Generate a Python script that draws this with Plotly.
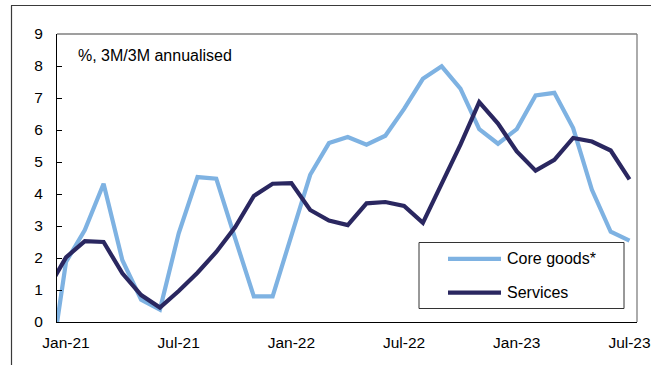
import plotly.graph_objects as go

# Monthly observations; the Dec-20 value only sets the slope of the first segment
# (the axis starts partway into December, so that point itself sits off-plot).
months = ["Dec-20",
          "Jan-21", "Feb-21", "Mar-21", "Apr-21", "May-21", "Jun-21",
          "Jul-21", "Aug-21", "Sep-21", "Oct-21", "Nov-21", "Dec-21",
          "Jan-22", "Feb-22", "Mar-22", "Apr-22", "May-22", "Jun-22",
          "Jul-22", "Aug-22", "Sep-22", "Oct-22", "Nov-22", "Dec-22",
          "Jan-23", "Feb-23", "Mar-23", "Apr-23", "May-23", "Jun-23",
          "Jul-23"]

core_goods = [-2.1,
              1.88, 2.87, 4.32, 1.93, 0.70, 0.39,
              2.77, 4.53, 4.48, 2.62, 0.80, 0.80,
              2.65, 4.60, 5.59, 5.78, 5.54, 5.82,
              6.66, 7.60, 7.99, 7.29, 6.03, 5.57,
              6.03, 7.08, 7.16, 6.06, 4.13, 2.82,
              2.54]

services = [1.0,
            2.02, 2.53, 2.50, 1.52, 0.84, 0.45,
            0.97, 1.54, 2.19, 2.96, 3.94, 4.32,
            4.34, 3.50, 3.17, 3.03, 3.71, 3.75,
            3.63, 3.10, 4.33, 5.54, 6.87, 6.20,
            5.33, 4.73, 5.07, 5.75, 5.64, 5.36,
            4.46]

x_ticks = ["Jan-21", "Jul-21", "Jan-22", "Jul-22", "Jan-23", "Jul-23"]
y_ticks = list(range(0, 10))

series_names = ["Core goods*", "Services"]
series_colors = ["#7EB2E2", "#2A2760"]

W, H = 665, 365
L, R, T, B = 57, 28, 34, 43
PW, PH = W - L - R, H - T - B

FONT = "Liberation Sans, Arial, sans-serif"


def px(x):
    return (x - L) / PW


def py(y):
    return (H - B - y) / PH


fig = go.Figure()
for name, vals, col in zip(series_names, [core_goods, services], series_colors):
    fig.add_trace(go.Scatter(
        x=months, y=vals, mode="lines", name=name,
        line=dict(color=col, width=4.2), showlegend=False,
    ))

shapes = []
# grey top/right edges of the plot area
shapes.append(dict(type="line", xref="paper", yref="paper", x0=0, x1=1, y0=1, y1=1,
                   line=dict(color="#7f7f7f", width=1.3)))
shapes.append(dict(type="line", xref="paper", yref="paper", x0=1, x1=1, y0=0, y1=1,
                   line=dict(color="#7f7f7f", width=1.3)))
# outer frame (top and left)
shapes.append(dict(type="line", xref="paper", yref="paper",
                   x0=px(11), x1=px(651), y0=py(5.5), y1=py(5.5),
                   line=dict(color="#3a3a3a", width=1.2)))
shapes.append(dict(type="line", xref="paper", yref="paper",
                   x0=px(11.5), x1=px(11.5), y0=py(5.5), y1=py(366),
                   line=dict(color="#3a3a3a", width=1.2)))
# legend box
shapes.append(dict(type="rect", xref="paper", yref="paper",
                   x0=px(419), x1=px(624), y0=py(308.5), y1=py(242.5),
                   line=dict(color="#333333", width=1), fillcolor="white"))

annotations = [dict(text="%, 3M/3M annualised", xref="paper", yref="paper",
                    x=px(76), y=py(56), xanchor="left", yanchor="middle",
                    showarrow=False, font=dict(family=FONT, size=16, color="black"))]

legend_rows = [258.8, 292.6]
for name, col, yy in zip(series_names, series_colors, legend_rows):
    shapes.append(dict(type="line", xref="paper", yref="paper",
                       x0=px(448), x1=px(501), y0=py(yy), y1=py(yy),
                       line=dict(color=col, width=4.2)))
    annotations.append(dict(text=name, xref="paper", yref="paper",
                            x=px(505), y=py(yy), xanchor="left", yanchor="middle",
                            showarrow=False,
                            font=dict(family=FONT, size=16, color="black")))

fig.update_layout(
    width=W, height=H,
    margin=dict(l=L, r=R, t=T, b=B, autoexpand=False),
    paper_bgcolor="white", plot_bgcolor="white",
    font=dict(family=FONT, color="black"),
    shapes=shapes, annotations=annotations,
    showlegend=False,
)

fig.update_xaxes(
    type="category", categoryorder="array", categoryarray=months,
    range=[0.52, 31.4],
    tickmode="array", tickvals=x_ticks, ticktext=x_ticks,
    ticks="", showgrid=False, zeroline=False,
    showline=True, linecolor="black", linewidth=1.3,
    tickfont=dict(family=FONT, size=15.5, color="black"),
    ticklabelstandoff=6,
)

fig.update_yaxes(
    range=[0, 9], tickmode="array", tickvals=y_ticks,
    ticks="inside", ticklen=5, tickcolor="black", tickwidth=1,
    showgrid=False, zeroline=False,
    showline=True, linecolor="black", linewidth=1.3,
    tickfont=dict(family=FONT, size=15.5, color="black"),
    ticklabelstandoff=10,
)

fig.write_html("out.html")
